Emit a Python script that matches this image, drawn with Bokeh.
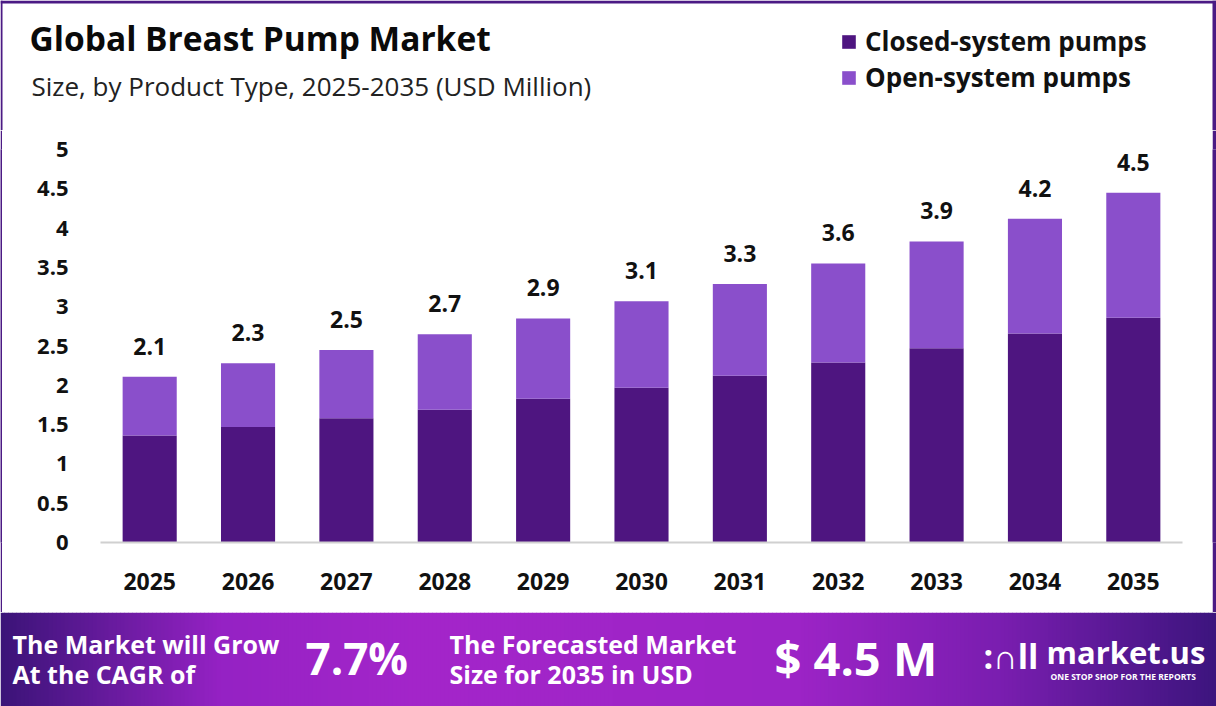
from bokeh.plotting import figure
from bokeh.layouts import column, row
from bokeh.models import (ColumnDataSource, Legend, LegendItem, FixedTicker, Range1d)
from bokeh.core.properties import value
from bokeh.embed import file_html
from bokeh.resources import INLINE

# ---- data ----
years = ["2025", "2026", "2027", "2028", "2029", "2030", "2031", "2032", "2033", "2034", "2035"]
closed_system = [1.36, 1.47, 1.58, 1.69, 1.83, 1.97, 2.12, 2.29, 2.47, 2.66, 2.86]
open_system = [0.75, 0.81, 0.87, 0.96, 1.02, 1.10, 1.17, 1.26, 1.36, 1.46, 1.59]
total_labels = ["2.1", "2.3", "2.5", "2.7", "2.9", "3.1", "3.3", "3.6", "3.9", "4.2", "4.5"]
series_names = ["Closed-system pumps", "Open-system pumps"]
y_ticks = [0, 0.5, 1, 1.5, 2, 2.5, 3, 3.5, 4, 4.5, 5]
y_tick_labels = ["0", "0.5", "1", "1.5", "2", "2.5", "3", "3.5", "4", "4.5", "5"]

title_text = "Global Breast Pump Market"
subtitle_text = "Size, by Product Type, 2025-2035 (USD Million)"
cagr_lines = ["The Market will Grow", "At the CAGR of"]
cagr_value = "7.7%"
forecast_lines = ["The Forecasted Market", "Size for 2035 in USD"]
forecast_value = "$ 4.5 M"

CLOSED_COLOR = "#4e1580"
OPEN_COLOR = "#8a4fcb"
BORDER = "#4b1a84"
FONT = "Open Sans"

W = 1216
H_HEAD, H_MAIN, H_BAN = 130, 482, 94


def blank_fig(w, h):
    f = figure(width=w, height=h, x_range=Range1d(0, w), y_range=Range1d(h, 0),
               output_backend="svg", toolbar_location=None,
               x_axis_location=None, y_axis_location=None, min_border=0)
    f.xgrid.grid_line_color = None
    f.ygrid.grid_line_color = None
    f.outline_line_color = None
    f.background_fill_color = "white"
    f.border_fill_color = "white"
    return f


def add_text(f, x, y, txt, size, color, style="bold", align="left"):
    f.text(x=[x], y=[y], text=[txt], text_font=value(FONT), text_font_size=size,
           text_font_style=style, text_color=color, text_baseline="middle",
           text_align=align)


# ---------------- header ----------------
head = blank_fig(W, H_HEAD)
head.quad(left=[0, 1212, 0], right=[2, W, W], top=[0, 0, 0], bottom=[H_HEAD, H_HEAD, 3],
          fill_color=BORDER, line_color=None)
add_text(head, 29, 37, title_text, "33.5px", "#0a0a0a")
add_text(head, 31, 85, subtitle_text, "26px", "#222222", style="normal")
# zero-size swatch renderers so the legend can show the series colours
leg_closed = head.vbar(x=[0], top=[0], bottom=[0], width=0, fill_color=CLOSED_COLOR,
                       line_color=None)
leg_open = head.vbar(x=[0], top=[0], bottom=[0], width=0, fill_color=OPEN_COLOR,
                     line_color=None)
legend = Legend(items=[LegendItem(label=series_names[0], renderers=[leg_closed]),
                       LegendItem(label=series_names[1], renderers=[leg_open])],
                location=(840, H_HEAD - 95), orientation="vertical",
                background_fill_alpha=0, border_line_color=None,
                glyph_width=17, glyph_height=17, label_height=30, label_text_font=FONT,
                label_text_font_size="26px", label_text_font_style="bold",
                label_text_color="#111111", spacing=0, padding=0, margin=0,
                label_standoff=8)
head.add_layout(legend, "center")

# ---------------- main chart ----------------
totals = [c + o for c, o in zip(closed_system, open_system)]
source = ColumnDataSource(dict(year=years, closed=closed_system, open=open_system,
                               total=totals, label=total_labels))

MAIN_W = 1210
p = figure(width=MAIN_W, height=H_MAIN, x_range=years, y_range=Range1d(0, 5),
           output_backend="svg", toolbar_location=None,
           min_border_left=98, min_border_right=30, min_border_top=19,
           min_border_bottom=70)
p.background_fill_color = "white"
p.border_fill_color = "white"
p.outline_line_color = None
p.xgrid.grid_line_color = None
p.ygrid.grid_line_color = None
p.x_range.range_padding = 0

p.vbar_stack(["closed", "open"], x="year", width=0.55, source=source,
             color=[CLOSED_COLOR, OPEN_COLOR], line_color=None)

p.text(x="year", y="total", text="label", source=source, text_align="center",
       text_baseline="bottom", y_offset=-22, text_font=value(FONT),
       text_font_size="23px", text_font_style="bold", text_color="#111111")

p.yaxis.ticker = FixedTicker(ticks=y_ticks)
p.yaxis.major_label_overrides = {t: l for t, l in zip(y_ticks, y_tick_labels)}
p.yaxis.axis_line_color = None
p.yaxis.major_tick_line_color = None
p.yaxis.minor_tick_line_color = None
p.yaxis.major_label_text_font = FONT
p.yaxis.major_label_text_font_size = "22px"
p.yaxis.major_label_text_font_style = "bold"
p.yaxis.major_label_text_color = "#111111"
p.yaxis.major_label_standoff = 26

p.xaxis.axis_line_color = "#d0d0d0"
p.xaxis.axis_line_width = 2
p.xaxis.major_tick_line_color = None
p.xaxis.minor_tick_line_color = None
p.xaxis.major_label_text_font = FONT
p.xaxis.major_label_text_font_size = "23px"
p.xaxis.major_label_text_font_style = "bold"
p.xaxis.major_label_text_color = "#111111"
p.xaxis.major_label_standoff = 24


def strip(w, h):
    s = figure(width=w, height=h, output_backend="svg", toolbar_location=None,
               x_axis_location=None, y_axis_location=None, min_border=0)
    s.background_fill_color = BORDER
    s.border_fill_color = BORDER
    s.outline_line_color = None
    s.xgrid.grid_line_color = None
    s.ygrid.grid_line_color = None
    return s


middle = row(strip(2, H_MAIN), p, strip(W - MAIN_W - 2, H_MAIN), spacing=0)

# ---------------- banner ----------------
ban = blank_fig(W, H_BAN)
stops = [(0, (0x3b, 0x14, 0x78)), (220, (0x95, 0x22, 0xc4)), (420, (0xa4, 0x26, 0xca)),
         (800, (0x9c, 0x24, 0xc6)), (1000, (0x7a, 0x1e, 0xb0)), (W, (0x3d, 0x15, 0x7e))]


def col_at(x):
    for (x0, c0), (x1, c1) in zip(stops[:-1], stops[1:]):
        if x0 <= x <= x1:
            f = (x - x0) / (x1 - x0)
            return "#%02x%02x%02x" % tuple(int(a + (b - a) * f) for a, b in zip(c0, c1))
    return "#%02x%02x%02x" % stops[-1][1]


step = 4
lefts = list(range(0, W, step))
ban.quad(left=lefts, right=[l + step + 0.5 for l in lefts], top=[0] * len(lefts),
         bottom=[H_BAN] * len(lefts), fill_color=[col_at(l + step / 2) for l in lefts],
         line_color=None)

add_text(ban, 12, 31, cagr_lines[0], "25px", "white")
add_text(ban, 12, 61, cagr_lines[1], "25px", "white")
add_text(ban, 305, 45, cagr_value, "44px", "white")
add_text(ban, 449, 31, forecast_lines[0], "25px", "white")
add_text(ban, 449, 61, forecast_lines[1], "25px", "white")
add_text(ban, 774, 45, forecast_value, "47px", "white")
add_text(ban, 983, 43, ":\u2229ll", "34px", "white")
add_text(ban, 1046, 39, "market.us", "31px", "white")
add_text(ban, 1050, 64, "ONE STOP SHOP FOR THE REPORTS", "8.5px", "white")

layout = column(head, middle, ban, spacing=0)
open("out.html", "w").write(file_html(layout, INLINE))
